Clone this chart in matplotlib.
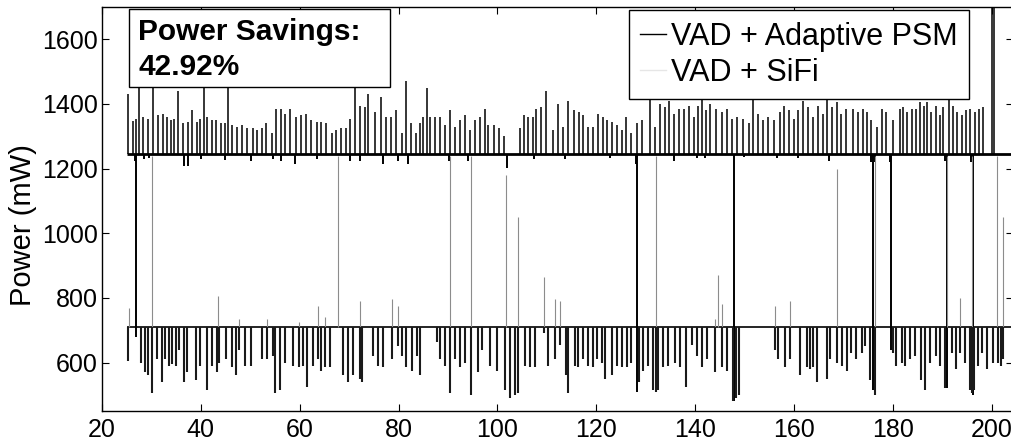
import matplotlib.pyplot as plt
from matplotlib.lines import Line2D
from matplotlib.patches import Rectangle

plt.rcParams['font.family'] = ['Liberation Sans', 'DejaVu Sans']

# ---- data (time in s, power in mW) ----
psm_level = 1245   # VAD + Adaptive PSM resting level
sifi_level = 710   # VAD + SiFi resting level
trace_start = 25

psm_t = [25.3, 26.3, 26.9, 27.5, 28.2, 29.4, 30.4, 31.4, 32.3, 33.1, 33.9, 34.6, 35.4, 36.4, 37.3,
         38.3, 39.2, 39.8, 40.6, 41.3, 42.2, 43.1, 44.0, 44.9, 45.5, 46.4, 47.4, 48.3, 49.3,
         50.6, 51.3, 52.3, 53.2, 54.3, 55.2, 56.2, 57.0, 58.1, 59.2, 60.2, 61.3, 62.3, 63.4, 64.3,
         65.4, 66.5, 67.3, 68.3, 69.4, 70.2, 71.2, 72.2, 73.2, 73.9, 75.2, 76.5, 77.5, 78.5, 79.5,
         80.6, 81.6, 82.6, 83.6, 84.4, 85.0, 85.7, 86.3, 87.3, 88.4, 89.4, 90.4, 91.4, 92.4, 93.4,
         94.4, 95.4, 96.4, 97.5, 98.1, 99.4, 100.4, 101.4,
         104.5, 105.3, 106.2, 107.1, 107.9, 108.9, 109.9,
         111.3, 112.3, 113.3, 114.3, 115.4, 116.4, 117.4, 118.4, 119.4, 120.4, 121.3, 122.2, 123.1,
         124.1, 125.1, 126.1, 127.1, 128.3, 129.3, 130.8, 131.8, 132.8, 133.8, 134.8, 135.8, 136.8,
         137.8, 138.8, 139.8, 140.6,
         141.3, 142.2, 143.1, 144.2, 145.4, 146.4, 147.4, 148.5, 149.6, 150.8, 151.6, 152.8, 153.8,
         154.8, 156.0, 157.1, 158.0, 158.9, 159.9, 160.9, 161.9, 162.9, 163.9, 164.9, 165.8, 166.6,
         167.6, 168.6, 169.6, 170.6,
         172.0, 173.0, 173.9, 174.7, 175.5, 176.7, 177.7, 178.7, 180.1, 181.4, 182.1, 182.9, 183.8,
         184.6, 185.5, 186.3, 186.9, 187.8, 188.7, 189.5, 190.2, 191.4, 192.2, 193.0, 193.9, 194.8,
         195.7, 196.6, 197.4, 198.3, 200.1, 200.5]
psm_peak = [1430, 1347, 1355, 1520, 1360, 1355, 1520, 1365, 1370, 1360, 1350, 1355, 1440, 1340, 1345,
            1380, 1345, 1355, 1520, 1360, 1350, 1350, 1340, 1340, 1520, 1335, 1330, 1335, 1325,
            1325, 1320, 1325, 1340, 1310, 1385, 1385, 1370, 1385, 1360, 1365, 1370, 1350, 1345, 1345,
            1340, 1310, 1320, 1325, 1325, 1355, 1520, 1395, 1390, 1430, 1375, 1420, 1360, 1360, 1380,
            1310, 1470, 1340, 1310, 1340, 1360, 1450, 1360, 1360, 1360, 1335, 1380, 1330, 1350, 1365,
            1320, 1350, 1360, 1385, 1335, 1335, 1325, 1300,
            1325, 1365, 1360, 1360, 1385, 1390, 1440,
            1320, 1400, 1330, 1410, 1380, 1375, 1365, 1330, 1330, 1370, 1360, 1350, 1345,
            1335, 1320, 1360, 1310, 1340, 1350, 1520, 1330, 1400, 1390, 1410, 1370, 1385,
            1385, 1395, 1360, 1395,
            1480, 1380, 1400, 1385, 1375, 1385, 1355, 1360, 1355, 1340, 1480, 1370, 1350,
            1360, 1350, 1375, 1395, 1380, 1355, 1380, 1410, 1390, 1360, 1395, 1370, 1415,
            1390, 1405, 1370, 1385,
            1385, 1375, 1385, 1375, 1350, 1330, 1385, 1375, 1350, 1385, 1390, 1375, 1385,
            1385, 1405, 1395, 1405, 1375, 1395, 1365, 1390, 1480, 1395, 1375, 1365, 1380,
            1385, 1375, 1385, 1390, 1750, 1750]

psm_dip_t = [26.6, 26.9, 28.5, 29.5, 36.6, 37.3, 40.0, 44.9, 50.2, 54.6, 56.3, 59.0, 63.4, 70.1,
             72.2, 76.9, 79.9, 82.0, 90.2, 94.0, 101.9, 107.3, 113.6, 122.7, 128.0, 128.3, 135.7,
             140.3, 142.0, 147.8, 149.8, 156.5, 160.9, 167.0, 175.5, 175.9, 176.4, 179.4, 179.7,
             190.5, 190.9, 195.9, 196.3]
psm_dip_v = [1223, 680, 1230, 1232, 1208, 1208, 1230, 1228, 1223, 1230, 1223, 1213, 1230, 1223,
             1223, 1213, 1223, 1213, 1223, 1223, 1203, 1230, 1230, 1232, 1215, 510, 1223,
             1232, 1232, 480, 1235, 1232, 1232, 1223, 1219, 516, 1219, 1219, 640,
             1225, 522, 1219, 500]

sifi_dip_t = [25.3, 27.9, 28.6, 29.3, 30.2, 31.2, 32.2, 32.7, 33.6, 34.2, 34.9, 35.5, 36.5, 37.2,
              39.1, 39.9, 41.2, 42.2, 43.3, 43.6, 45.1, 46.3, 47.1, 47.8, 48.9,
              50.2, 52.3, 53.3, 54.6, 55.0, 56.0, 57.0, 58.7, 59.9, 60.7, 61.5, 62.7, 63.7, 64.4,
              65.1, 66.1, 68.8, 69.8, 70.8, 72.2, 72.5, 74.9, 75.9, 76.9, 78.6, 79.9,
              80.6, 81.6, 82.7, 83.7, 84.3, 87.7, 88.4, 89.4, 90.5, 91.4, 92.4, 93.4, 94.7, 96.1,
              96.8, 98.5, 99.9, 101.5, 102.5, 103.6, 104.2, 105.6, 106.6, 107.6, 109.4, 110.3,
              111.6, 112.6, 113.8, 114.3, 115.7, 116.3, 117.3, 118.4, 119.4, 120.2, 121.1, 121.7,
              123.1, 124.1, 125.1, 126.2, 127.1, 128.7, 129.5, 130.5, 131.5, 132.0, 132.5, 133.5,
              134.5, 135.9, 136.9, 138.2, 139.3, 140.3,
              141.3, 142.3, 144.0, 145.4, 146.4, 147.7, 148.3, 148.8,
              156.2, 156.8, 158.2, 159.2, 161.2, 162.6, 163.2, 163.9, 164.6, 166.6, 167.3, 168.6,
              169.7, 170.7,
              171.6, 172.6, 173.7, 174.3, 175.3, 176.3, 180.1, 180.7, 181.8, 182.4, 183.4, 184.4,
              185.6, 186.5, 187.5, 188.8, 189.6, 190.5, 191.9, 192.7, 193.6, 194.6, 195.6, 196.0,
              196.4, 197.3, 198.1, 199.1, 200.3, 201.3, 201.8, 202.3]
sifi_dip_v = [605, 600, 570, 560, 505, 610, 540, 610, 590, 595, 590, 640, 540, 570,
              545, 590, 515, 590, 570, 600, 610, 585, 560, 640, 590,
              590, 610, 610, 620, 505, 515, 600, 590, 585, 590, 525, 590, 610, 575,
              585, 585, 560, 540, 560, 550, 540, 620, 590, 585, 610, 650,
              620, 585, 575, 620, 560, 665, 610, 590, 505, 610, 585, 600, 500, 570,
              640, 590, 575, 515, 490, 500, 505, 590, 585, 585, 690, 590,
              610, 655, 560, 505, 590, 585, 610, 590, 585, 610, 600, 550,
              560, 590, 585, 585, 600, 540, 575, 590, 515, 510, 515, 585,
              590, 600, 585, 525, 655, 620,
              585, 610, 570, 585, 575, 480, 490, 500,
              640, 610, 585, 610, 560, 585, 580, 585, 540, 550, 610, 600,
              590, 575,
              630, 610, 630, 650, 545, 500, 630, 590, 600, 590, 610, 620,
              545, 515, 600, 620, 590, 520, 630, 580, 630, 600, 515, 505,
              515, 590, 630, 580, 600, 600, 590, 610]

sifi_up_t = [25.5, 30.2, 43.5, 47.8, 53.3, 59.9, 63.7, 65.1, 67.8, 72.2, 78.6, 79.9, 90.5, 94.7,
             101.7, 104.2, 109.4, 111.6, 112.6, 132.1, 144.0, 144.7, 145.4, 156.2, 159.2, 168.6,
             176.3, 190.9, 193.6, 196.1, 201.0, 202.2]
sifi_up_v = [770, 1240, 805, 735, 735, 725, 775, 740, 1240, 790, 795, 775, 1240, 1240,
             1180, 1050, 865, 795, 790, 1240, 735, 870, 780, 775, 790, 1200,
             1240, 1240, 800, 1240, 1240, 1050]

xmax = 204.3

fig = plt.figure(figsize=(10.12, 4.44), dpi=100)
ax = fig.add_axes([102 / 1012, 33 / 444, 911 / 1012, 404 / 444])

ax.hlines(psm_level, trace_start, xmax, color='k', lw=2.0)
ax.vlines(psm_t, psm_level, psm_peak, color='k', lw=1.1)
ax.vlines(psm_dip_t, psm_level, psm_dip_v, color='k', lw=1.4)
ax.hlines(sifi_level, trace_start, xmax, color='k', lw=1.2)
ax.vlines(sifi_up_t, sifi_level, sifi_up_v, color='0.55', lw=0.8)
ax.vlines(sifi_dip_t, sifi_level, sifi_dip_v, color='0.1', lw=1.5)

ax.set_xlim(20, xmax)
ax.set_ylim(450, 1700)
ax.set_xticks(range(20, 201, 20))
ax.set_yticks(range(600, 1601, 200))
ax.tick_params(direction='in', length=5, width=0.8, top=True, right=True)
ax.tick_params(axis='x', labelsize=18, pad=5)
ax.tick_params(axis='y', labelsize=18, pad=3)
for s in ax.spines.values():
    s.set_linewidth(1.0)

ax.set_ylabel('Power (mW)', fontsize=21)
ax.yaxis.set_label_coords((37 - 102) / 911, 0.46)

# power savings box
ax.add_patch(Rectangle((0.0297, 0.802), 0.286, 0.193, transform=ax.transAxes,
                       fc='white', ec='k', lw=1.0, zorder=5))
ax.text(0.0396, 0.918, 'Power Savings:', transform=ax.transAxes, fontsize=21.5,
        fontweight='bold', va='baseline', zorder=6)
ax.text(0.0396, 0.832, '42.92%', transform=ax.transAxes, fontsize=21.5,
        fontweight='bold', va='baseline', zorder=6)

handles = [Line2D([], [], color='k', lw=1.0), Line2D([], [], color='0.9', lw=1.0)]
leg = ax.legend(handles, ['VAD + Adaptive PSM', 'VAD + SiFi'], loc='upper right',
                bbox_to_anchor=(0.9517, 0.9926), borderaxespad=0, fontsize=22,
                fancybox=False, edgecolor='k', framealpha=1, handlelength=0.85,
                handletextpad=0.15, borderpad=0.38, labelspacing=0.2)
leg.get_frame().set_linewidth(1.0)

fig.savefig('out.png', dpi=100)
